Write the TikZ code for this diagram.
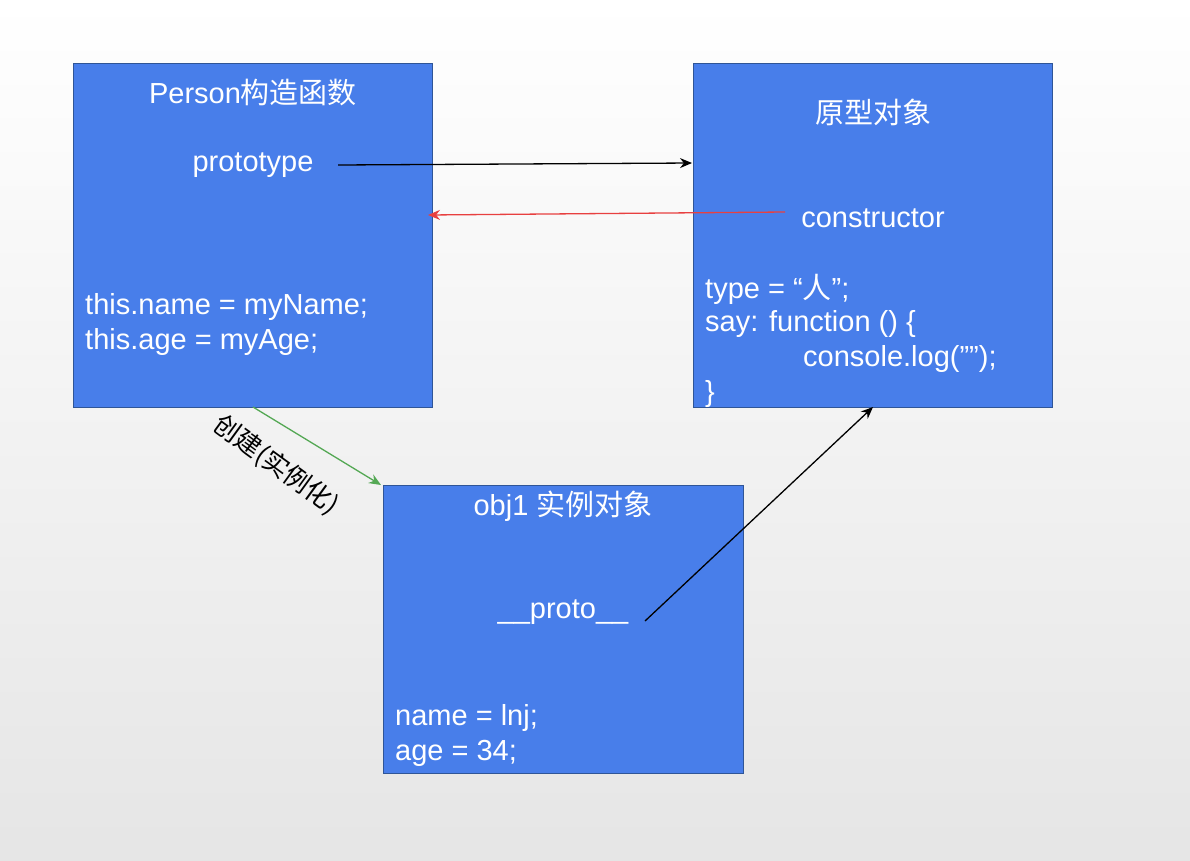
\documentclass[tikz,border=0pt]{standalone}
\usepackage{fontspec}
\usetikzlibrary{arrows.meta}
\setmainfont{Liberation Sans}
\newfontfamily\cjk{Noto Sans CJK SC}
\begin{document}
\begin{tikzpicture}[x=1pt,y=-1pt,
  box/.style={draw=boxborder,fill=boxblue,line width=1pt},
  wt/.style={text=white,font=\fontsize{29}{35}\selectfont,inner sep=0pt},
  lt/.style={wt,anchor=west},
  arr/.style={-{Stealth[length=12pt,width=10pt]},line width=1.3pt}]
\definecolor{boxblue}{RGB}{72,126,234}
\definecolor{boxborder}{RGB}{47,85,151}
\definecolor{redarr}{RGB}{232,64,64}
\definecolor{greenarr}{RGB}{84,168,84}
\useasboundingbox (0,0) rectangle (1190,860);
\shade[top color=white,bottom color=black!10] (0,0) rectangle (1190,860);
\draw[box] (73,63) rectangle (432,407);
\draw[box] (693,63) rectangle (1052,407);
\draw[box] (383,485) rectangle (743,773);
\node[wt] (t1) at (253,93) {Person{\cjk 构造函数}};
\node[wt] (proto) at (253,165) {prototype};
\node[lt] (n1) at (85,307) {this.name = myName;};
\node[lt] (n2) at (85,342) {this.age = myAge;};
\node[wt] (t2) at (873,112) {\cjk 原型对象};
\node[wt] (cons) at (873,218) {constructor};
\node[lt] (p1) at (705,289) {type = “{\cjk 人}”;};
\node[lt] (p2) at (705,324) {say: function () \{};
\node[lt] (p3) at (803,359) {console.log(\symbol{34}\symbol{34});};
\node[lt] (p4) at (705,394) {\}};
\node[wt] (t3) at (563,506) {obj1 {\cjk 实例对象}};
\node[wt] (pr) at (563,612) {\_\_proto\_\_};
\node[lt] (o1) at (395,718) {name = lnj;};
\node[lt] (o2) at (395,753) {age = 34;};
\node[font=\cjk\fontsize{26}{28}\selectfont,rotate=-36,inner sep=0pt] (lab) at (276,465) {创建(实例化)};
\coordinate (a1) at (338,165); \coordinate (a2) at (692,163);
\coordinate (b1) at (785,212); \coordinate (b2) at (428,215);
\coordinate (c1) at (253,407); \coordinate (c2) at (381,485);
\coordinate (d1) at (645,621); \coordinate (d2) at (873,407);
\draw[arr] (a1) -- (a2);
\draw[arr,redarr] (b1) -- (b2);
\draw[arr,greenarr] (c1) -- (c2);
\draw[arr] (d1) -- (d2);
\end{tikzpicture}
\end{document}
